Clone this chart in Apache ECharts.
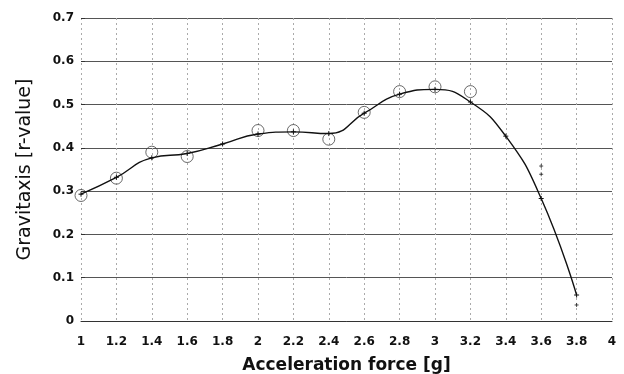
<!DOCTYPE html>
<html>
<head>
<meta charset="utf-8">
<script src="https://cdn.jsdelivr.net/npm/echarts@6/dist/echarts.min.js"></script>
<style>html,body{margin:0;padding:0;background:#fff}#c{width:624px;height:374px}</style>
</head>
<body>
<div id="c"></div>
<script>
// Measured means (circles)
const meanX = [1, 1.2, 1.4, 1.6, 2.0, 2.2, 2.4, 2.6, 2.8, 3.0, 3.2];
const meanY = [0.29, 0.33, 0.39, 0.38, 0.44, 0.44, 0.42, 0.482, 0.53, 0.541, 0.53];
// Fitted curve points ("+" markers)
const fitX = [1, 1.2, 1.4, 1.6, 1.8, 2.0, 2.2, 2.4, 2.6, 2.8, 3.0, 3.2, 3.4, 3.6, 3.8];
const fitY = [0.293, 0.332, 0.377, 0.387, 0.409, 0.432, 0.437, 0.433, 0.48, 0.524, 0.535, 0.506, 0.427, 0.283, 0.06];
// Isolated marks without circles
const extraX = [3.6, 3.6, 3.8];
const extraY = [0.358, 0.339, 0.037];
const xTicks = ['1','1.2','1.4','1.6','1.8','2','2.2','2.4','2.6','2.8','3','3.2','3.4','3.6','3.8','4'];
const yTicks = ['0','0.1','0.2','0.3','0.4','0.5','0.6','0.7'];

const plus = 'path://M0,5L10,5M5,0L5,10';
const chart = echarts.init(document.getElementById('c'), null, {renderer: 'canvas'});
const font = 'DejaVu Sans, Arial, sans-serif';
chart.setOption({
  animation: false,
  grid: {left: 81, right: 12, top: 18, bottom: 53, containLabel: false, outerBoundsMode: 'none'},
  xAxis: {
    type: 'value', min: 1, max: 4, interval: 0.2,
    name: 'Acceleration force [g]', nameLocation: 'middle', nameGap: 36,
    nameTextStyle: {fontFamily: font, fontSize: 17, fontWeight: 'bold', color: '#111'},
    axisLine: {show: true, lineStyle: {color: '#333', width: 1}},
    axisTick: {show: false},
    axisLabel: {fontFamily: font, fontSize: 12, fontWeight: 'bold', color: '#111', margin: 15,
      formatter: v => xTicks[Math.round((v - 1) / 0.2)]},
    splitLine: {show: true, lineStyle: {color: '#aaa', type: [2, 3], width: 1}}
  },
  yAxis: {
    type: 'value', min: 0, max: 0.7, interval: 0.1,
    name: 'Gravitaxis [r-value]', nameLocation: 'middle', nameGap: 46,
    nameTextStyle: {fontFamily: font, fontSize: 19, color: '#111'},
    axisLine: {show: false},
    axisTick: {show: true, length: 4, inside: true, lineStyle: {color: '#333'}},
    axisLabel: {fontFamily: font, fontSize: 12, fontWeight: 'bold', color: '#111', margin: 7,
      formatter: v => yTicks[Math.round(v / 0.1)]},
    splitLine: {show: true, lineStyle: {color: '#555', width: 1}}
  },
  series: [
    {
      type: 'line', smooth: 0.5,
      data: fitX.map((x, i) => [x, fitY[i]]),
      symbol: plus, symbolSize: 5, showSymbol: true,
      lineStyle: {color: '#111', width: 1.4},
      itemStyle: {color: '#111', borderColor: '#111', borderWidth: 1}
    },
    {
      type: 'scatter',
      data: meanX.map((x, i) => [x, meanY[i]]),
      symbol: 'circle', symbolSize: 12,
      itemStyle: {color: 'rgba(0,0,0,0)', borderColor: '#444', borderWidth: 1}
    },
    {
      type: 'scatter',
      data: extraX.map((x, i) => [x, extraY[i]]),
      symbol: plus, symbolSize: 4,
      itemStyle: {color: '#222', borderColor: '#222', borderWidth: 1}
    }
  ]
});
</script>
</body>
</html>
